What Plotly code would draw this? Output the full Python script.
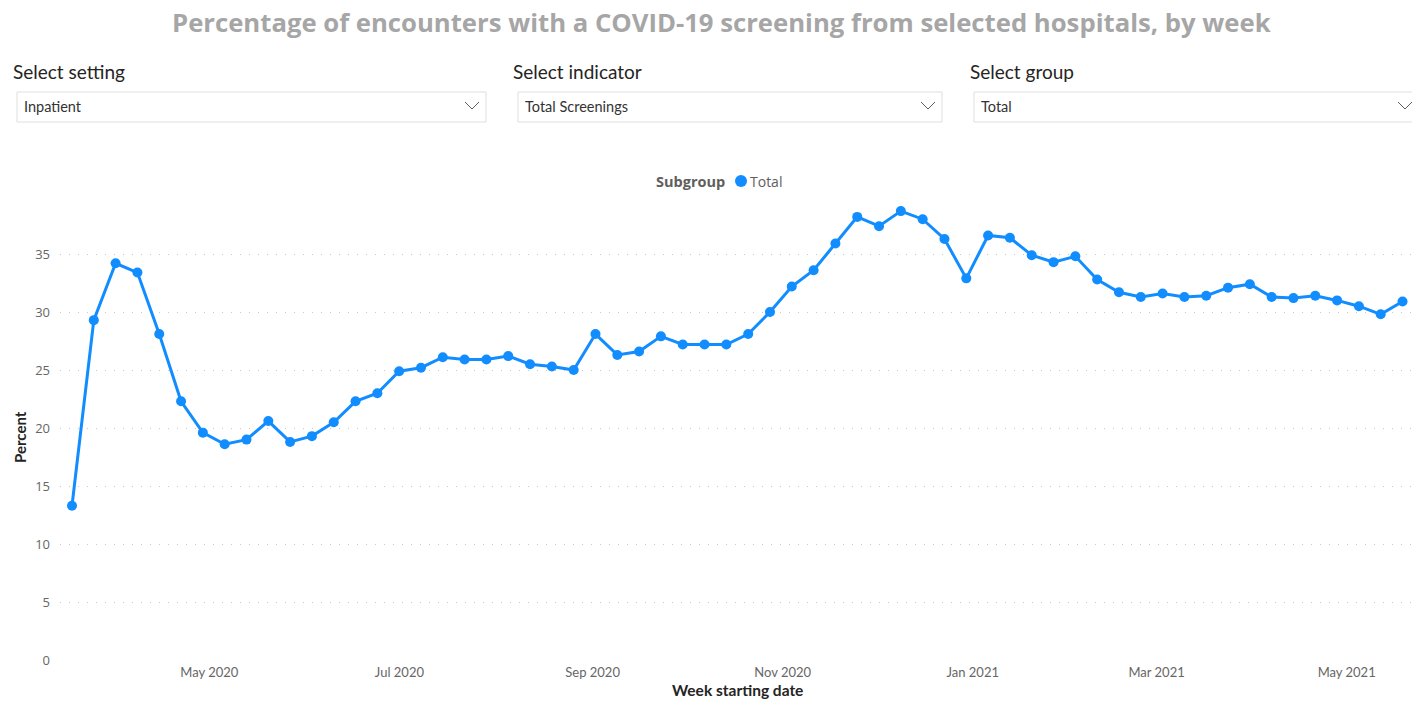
import pandas as pd
import plotly.graph_objects as go

# ---------------- data ----------------
start_week = "2020-03-16"
percent_total = [13.3, 29.3, 34.2, 33.4, 28.1, 22.3, 19.6, 18.6, 19.0, 20.6,
                 18.8, 19.3, 20.5, 22.3, 23.0, 24.9, 25.2, 26.1, 25.9, 25.9,
                 26.2, 25.5, 25.3, 25.0, 28.1, 26.3, 26.6, 27.9, 27.2, 27.2,
                 27.2, 28.1, 30.0, 32.2, 33.6, 35.9, 38.2, 37.4, 38.7, 38.0,
                 36.3, 32.9, 36.6, 36.4, 34.9, 34.3, 34.8, 32.8, 31.7, 31.3,
                 31.6, 31.3, 31.4, 32.1, 32.4, 31.3, 31.2, 31.4, 31.0, 30.5,
                 29.8, 30.9]
weeks = pd.date_range(start_week, periods=len(percent_total), freq="7D")

tick_dates = ["2020-05-01", "2020-07-01", "2020-09-01", "2020-11-01",
              "2021-01-01", "2021-03-01", "2021-05-01"]
tick_labels = ["May 2020", "Jul 2020", "Sep 2020", "Nov 2020",
               "Jan 2021", "Mar 2021", "May 2021"]
y_ticks = [0, 5, 10, 15, 20, 25, 30, 35]

title_text = "Percentage of encounters with a COVID-19 screening from selected hospitals, by week"
slicers = [("Select setting", "Inpatient"),
           ("Select indicator", "Total Screenings"),
           ("Select group", "Total")]
legend_title = "Subgroup"
series_name = "Total"

# ---------------- layout geometry ----------------
W, H = 1412, 704
L, R, T, B = 60, 0, 201, 44
PW, PH = W - L - R, H - T - B
BLUE = "#118DFF"


def px(x):
    return (x - L) / PW


def py(y):
    return (H - B - y) / PH


fig = go.Figure()
fig.add_trace(go.Scatter(
    x=weeks, y=percent_total, mode="lines+markers", name=series_name,
    line=dict(color=BLUE, width=3),
    marker=dict(color=BLUE, size=10),
    showlegend=False,
))

annotations = []
shapes = []

# Title
annotations.append(dict(
    text="<b>" + title_text + "</b>", x=px(721), y=py(22), xref="paper", yref="paper",
    xanchor="center", yanchor="middle", showarrow=False,
    font=dict(family="Open Sans", size=25.7, color="#A6A6A6")))

# Slicers
slicer_boxes = [(17, 486, 12), (518, 942, 512), (974, 1425, 969)]
for (label, value), (x0, x1, lx) in zip(slicers, slicer_boxes):
    annotations.append(dict(
        text=label, x=px(lx - 1), y=py(71), xref="paper", yref="paper",
        xanchor="left", yanchor="middle", showarrow=False,
        font=dict(family="Lato", size=19, color="#252423")))
    shapes.append(dict(
        type="rect", xref="paper", yref="paper",
        x0=px(x0), x1=px(x1), y0=py(92), y1=py(122),
        line=dict(color="#E1DFDD", width=1), fillcolor="rgba(0,0,0,0)"))
    annotations.append(dict(
        text=value, x=px(x0 + 5), y=py(107), xref="paper", yref="paper",
        xanchor="left", yanchor="middle", showarrow=False,
        font=dict(family="Lato", size=14.5, color="#333333")))
    cx = min(x1 - 14, W - 7)
    shapes.append(dict(
        type="path", xref="paper", yref="paper",
        path=f"M {px(cx - 7)},{py(102)} L {px(cx)},{py(109)} L {px(cx + 7)},{py(102)}",
        line=dict(color="#605E5C", width=1)))

# Legend
annotations.append(dict(
    text="<b>" + legend_title + "</b>", x=px(727), y=py(181), xref="paper", yref="paper",
    xanchor="right", yanchor="middle", showarrow=False,
    font=dict(family="Open Sans", size=14.5, color="#605E5C")))
shapes.append(dict(
    type="circle", xref="paper", yref="paper",
    x0=px(735), x1=px(747), y0=py(175), y1=py(187),
    fillcolor=BLUE, line=dict(color=BLUE, width=0)))
annotations.append(dict(
    text=series_name, x=px(748), y=py(181), xref="paper", yref="paper",
    xanchor="left", yanchor="middle", showarrow=False,
    font=dict(family="Open Sans", size=14, color="#605E5C")))

# Axis titles
annotations.append(dict(
    text="<b>Percent</b>", x=px(20), y=py(437), xref="paper", yref="paper",
    xanchor="center", yanchor="middle", showarrow=False, textangle=-90,
    font=dict(family="Lato", size=15, color="#252423")))
annotations.append(dict(
    text="<b>Week starting date</b>", x=px(737), y=py(690), xref="paper", yref="paper",
    xanchor="center", yanchor="middle", showarrow=False,
    font=dict(family="Lato", size=15.5, color="#252423")))

fig.update_layout(
    width=W, height=H,
    margin=dict(l=L, r=R, t=T, b=B),
    paper_bgcolor="white", plot_bgcolor="white",
    showlegend=False,
    annotations=annotations, shapes=shapes,
    xaxis=dict(
        range=["2020-03-12 03:36", "2021-05-20 01:00"],
        tickmode="array", tickvals=tick_dates, ticktext=tick_labels,
        showgrid=False, zeroline=False, showline=False, ticks="",
        ticklabelshift=-6, ticklabelstandoff=3,
        tickfont=dict(family="Lato", size=13, color="#666666"),
    ),
    yaxis=dict(
        range=[0, 39.57], tickmode="array", tickvals=y_ticks,
        showgrid=True, gridcolor="#C8C6C4", griddash="1px,8px", gridwidth=1,
        zeroline=False, showline=False, ticks="", ticklabelstandoff=9,
        tickfont=dict(family="Open Sans", size=13, color="#666666"),
    ),
)

fig.write_html("out.html", config={"displayModeBar": False},
               post_script="document.body.style.margin='0';document.body.style.padding='0';")
